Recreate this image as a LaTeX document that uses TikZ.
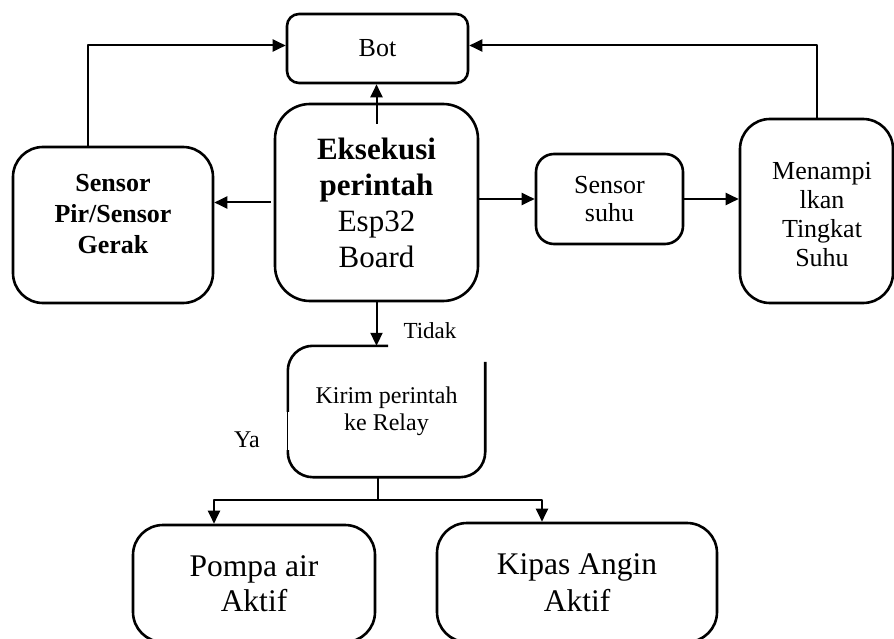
\documentclass[tikz,border=0pt]{standalone}
\usepackage{fontspec}
\setmainfont{Liberation Serif}
\usetikzlibrary{arrows.meta,positioning}

\begin{document}
\begin{tikzpicture}[x=1pt,y=-1pt,>={Triangle[length=13pt,width=12pt]},line join=round]
\useasboundingbox[fill=white] (0,0) rectangle (894,639);
\tikzset{box/.style={draw,line width=2.6pt,align=center,inner sep=0pt},conn/.style={line width=2pt},arr/.style={conn,->},edge/.style={line width=2.6pt}}
% boxes
\node[box,rounded corners=12pt,minimum width=181pt,minimum height=69pt,font=\fontsize{26}{31}\selectfont] (bot) at (377.5,48.5) {Bot};
\node[box,rounded corners=35pt,minimum width=203pt,minimum height=197pt,font=\fontsize{31}{36}\selectfont] (exec) at (376.5,202.5) {\textbf{Eksekusi}\\\textbf{perintah}\\Esp32\\Board};
\node[box,rounded corners=30pt,minimum width=200pt,minimum height=156pt,label={[align=center,font=\fontsize{26}{31}\selectfont\bfseries,yshift=11pt]center:Sensor\\Pir/Sensor\\Gerak}] (pir) at (113,225) {};
\node[box,rounded corners=18pt,minimum width=147pt,minimum height=90pt,font=\fontsize{26}{28}\selectfont] (suhu) at (609.5,199) {Sensor\\suhu};
\node[box,rounded corners=30pt,minimum width=153pt,minimum height=184pt,label={[align=center,font=\fontsize{26}{29}\selectfont,xshift=5.5pt,yshift=-4pt]center:Menampi\\lkan\\Tingkat\\Suhu}] (menam) at (816.5,211) {};
\node[align=center,inner sep=0pt,minimum width=197pt,minimum height=131pt,font=\fontsize{24}{27}\selectfont] (kirim) at (386.5,411.5) {Kirim perintah\\ke Relay};
\node[box,rounded corners=30pt,minimum width=242pt,minimum height=117pt,font=\fontsize{31.5}{35}\selectfont] (pompa) at (254,583.5) {Pompa air\\Aktif};
\node[box,rounded corners=30pt,minimum width=280pt,minimum height=119pt,font=\fontsize{31.5}{37}\selectfont] (kipas) at (577,582.5) {Kipas Angin\\Aktif};
% broken border of the relay box
\draw[edge,rounded corners=25pt] ([xshift=1.5pt]kirim.north) -- (kirim.north west) -- ([yshift=-66pt]kirim.north west);
\draw[line width=1.2pt] ([yshift=-66pt]kirim.north west) -- ([yshift=27pt]kirim.south west);
\draw[edge,rounded corners=25pt] ([yshift=27pt]kirim.south west) -- (kirim.south west) -- (kirim.south east) -- ([yshift=-16pt]kirim.north east);
% labels
\node[font=\fontsize{23}{27}\selectfont] (tidak) at (430,331) {Tidak};
\node[font=\fontsize{24}{27}\selectfont] (ya) at (247,440) {Ya};
% connectors
\draw[arr] ([yshift=-21pt]exec.north) -- (exec.north |- bot.south);
\draw[arr] ([xshift=-3pt]exec.west) -- (exec.west -| pir.east);
\draw[arr] (exec.east |- suhu.west) -- (suhu.west);
\draw[arr] (suhu.east) -- (suhu.east -| menam.west);
\draw[arr] ([xshift=-25pt]pir.north) |- ([yshift=3pt]bot.west);
\draw[arr] (menam.north) |- ([yshift=3pt]bot.east);
\draw[arr] (exec.south) -- (exec.south |- kirim.north);
\coordinate (split) at (378,500);
\draw[conn] (kirim.south -| split) -- (split);
\draw[arr] (split) -| ([xshift=-40pt]pompa.north);
\draw[arr] (split) -| ([xshift=-35pt]kipas.north);
\end{tikzpicture}
\end{document}
